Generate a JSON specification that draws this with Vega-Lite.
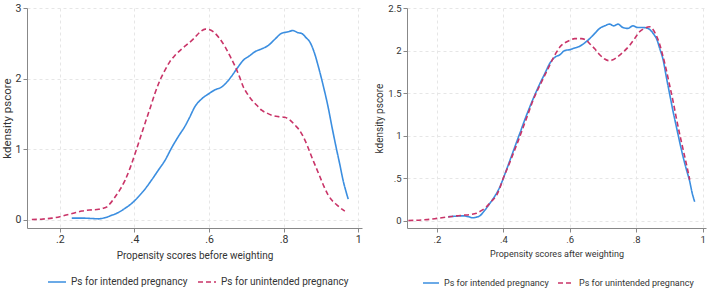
{
  "$schema": "https://vega.github.io/schema/vega-lite/v6.json",
  "padding": {"left": 1, "top": 3, "right": 1, "bottom": 1},
  "background": "white",
  "datasets": {
    "before": [
      {"group": "Ps for intended pregnancy", "x": 0.232, "y": 0.02},
      {"group": "Ps for intended pregnancy", "x": 0.26, "y": 0.02},
      {"group": "Ps for intended pregnancy", "x": 0.285, "y": 0.015},
      {"group": "Ps for intended pregnancy", "x": 0.304, "y": 0.01},
      {"group": "Ps for intended pregnancy", "x": 0.32, "y": 0.025},
      {"group": "Ps for intended pregnancy", "x": 0.339, "y": 0.06},
      {"group": "Ps for intended pregnancy", "x": 0.357, "y": 0.10},
      {"group": "Ps for intended pregnancy", "x": 0.375, "y": 0.16},
      {"group": "Ps for intended pregnancy", "x": 0.393, "y": 0.23},
      {"group": "Ps for intended pregnancy", "x": 0.41, "y": 0.32},
      {"group": "Ps for intended pregnancy", "x": 0.428, "y": 0.43},
      {"group": "Ps for intended pregnancy", "x": 0.446, "y": 0.56},
      {"group": "Ps for intended pregnancy", "x": 0.464, "y": 0.70},
      {"group": "Ps for intended pregnancy", "x": 0.482, "y": 0.84},
      {"group": "Ps for intended pregnancy", "x": 0.5, "y": 1.02},
      {"group": "Ps for intended pregnancy", "x": 0.518, "y": 1.18},
      {"group": "Ps for intended pregnancy", "x": 0.535, "y": 1.32},
      {"group": "Ps for intended pregnancy", "x": 0.548, "y": 1.45},
      {"group": "Ps for intended pregnancy", "x": 0.562, "y": 1.60},
      {"group": "Ps for intended pregnancy", "x": 0.58, "y": 1.71},
      {"group": "Ps for intended pregnancy", "x": 0.598, "y": 1.78},
      {"group": "Ps for intended pregnancy", "x": 0.616, "y": 1.84},
      {"group": "Ps for intended pregnancy", "x": 0.634, "y": 1.88},
      {"group": "Ps for intended pregnancy", "x": 0.648, "y": 1.95},
      {"group": "Ps for intended pregnancy", "x": 0.66, "y": 2.03},
      {"group": "Ps for intended pregnancy", "x": 0.676, "y": 2.15},
      {"group": "Ps for intended pregnancy", "x": 0.692, "y": 2.26},
      {"group": "Ps for intended pregnancy", "x": 0.708, "y": 2.32},
      {"group": "Ps for intended pregnancy", "x": 0.723, "y": 2.38},
      {"group": "Ps for intended pregnancy", "x": 0.741, "y": 2.42},
      {"group": "Ps for intended pregnancy", "x": 0.759, "y": 2.47},
      {"group": "Ps for intended pregnancy", "x": 0.777, "y": 2.56},
      {"group": "Ps for intended pregnancy", "x": 0.794, "y": 2.64},
      {"group": "Ps for intended pregnancy", "x": 0.81, "y": 2.66},
      {"group": "Ps for intended pregnancy", "x": 0.825, "y": 2.68},
      {"group": "Ps for intended pregnancy", "x": 0.838, "y": 2.65},
      {"group": "Ps for intended pregnancy", "x": 0.848, "y": 2.64},
      {"group": "Ps for intended pregnancy", "x": 0.86, "y": 2.58},
      {"group": "Ps for intended pregnancy", "x": 0.87, "y": 2.52},
      {"group": "Ps for intended pregnancy", "x": 0.882, "y": 2.37},
      {"group": "Ps for intended pregnancy", "x": 0.893, "y": 2.17},
      {"group": "Ps for intended pregnancy", "x": 0.906, "y": 1.90},
      {"group": "Ps for intended pregnancy", "x": 0.919, "y": 1.60},
      {"group": "Ps for intended pregnancy", "x": 0.93, "y": 1.30},
      {"group": "Ps for intended pregnancy", "x": 0.942, "y": 0.99},
      {"group": "Ps for intended pregnancy", "x": 0.951, "y": 0.77},
      {"group": "Ps for intended pregnancy", "x": 0.96, "y": 0.54},
      {"group": "Ps for intended pregnancy", "x": 0.967, "y": 0.40},
      {"group": "Ps for intended pregnancy", "x": 0.973, "y": 0.29},
      {"group": "Ps for unintended pregnancy", "x": 0.125, "y": 0.0},
      {"group": "Ps for unintended pregnancy", "x": 0.15, "y": 0.005},
      {"group": "Ps for unintended pregnancy", "x": 0.179, "y": 0.02},
      {"group": "Ps for unintended pregnancy", "x": 0.2, "y": 0.04},
      {"group": "Ps for unintended pregnancy", "x": 0.214, "y": 0.06},
      {"group": "Ps for unintended pregnancy", "x": 0.236, "y": 0.09},
      {"group": "Ps for unintended pregnancy", "x": 0.259, "y": 0.12},
      {"group": "Ps for unintended pregnancy", "x": 0.28, "y": 0.135},
      {"group": "Ps for unintended pregnancy", "x": 0.304, "y": 0.145},
      {"group": "Ps for unintended pregnancy", "x": 0.316, "y": 0.16},
      {"group": "Ps for unintended pregnancy", "x": 0.326, "y": 0.18},
      {"group": "Ps for unintended pregnancy", "x": 0.337, "y": 0.24},
      {"group": "Ps for unintended pregnancy", "x": 0.348, "y": 0.32},
      {"group": "Ps for unintended pregnancy", "x": 0.362, "y": 0.43},
      {"group": "Ps for unintended pregnancy", "x": 0.375, "y": 0.56},
      {"group": "Ps for unintended pregnancy", "x": 0.389, "y": 0.74},
      {"group": "Ps for unintended pregnancy", "x": 0.402, "y": 0.94},
      {"group": "Ps for unintended pregnancy", "x": 0.415, "y": 1.15},
      {"group": "Ps for unintended pregnancy", "x": 0.428, "y": 1.36},
      {"group": "Ps for unintended pregnancy", "x": 0.442, "y": 1.58},
      {"group": "Ps for unintended pregnancy", "x": 0.455, "y": 1.79},
      {"group": "Ps for unintended pregnancy", "x": 0.468, "y": 1.97},
      {"group": "Ps for unintended pregnancy", "x": 0.482, "y": 2.12},
      {"group": "Ps for unintended pregnancy", "x": 0.495, "y": 2.24},
      {"group": "Ps for unintended pregnancy", "x": 0.509, "y": 2.33},
      {"group": "Ps for unintended pregnancy", "x": 0.527, "y": 2.42},
      {"group": "Ps for unintended pregnancy", "x": 0.545, "y": 2.50},
      {"group": "Ps for unintended pregnancy", "x": 0.56, "y": 2.57},
      {"group": "Ps for unintended pregnancy", "x": 0.576, "y": 2.66},
      {"group": "Ps for unintended pregnancy", "x": 0.59, "y": 2.70},
      {"group": "Ps for unintended pregnancy", "x": 0.602, "y": 2.69},
      {"group": "Ps for unintended pregnancy", "x": 0.612, "y": 2.66},
      {"group": "Ps for unintended pregnancy", "x": 0.628, "y": 2.57},
      {"group": "Ps for unintended pregnancy", "x": 0.643, "y": 2.45},
      {"group": "Ps for unintended pregnancy", "x": 0.656, "y": 2.32},
      {"group": "Ps for unintended pregnancy", "x": 0.67, "y": 2.17},
      {"group": "Ps for unintended pregnancy", "x": 0.682, "y": 2.02},
      {"group": "Ps for unintended pregnancy", "x": 0.692, "y": 1.88},
      {"group": "Ps for unintended pregnancy", "x": 0.703, "y": 1.78},
      {"group": "Ps for unintended pregnancy", "x": 0.714, "y": 1.70},
      {"group": "Ps for unintended pregnancy", "x": 0.728, "y": 1.62},
      {"group": "Ps for unintended pregnancy", "x": 0.741, "y": 1.55},
      {"group": "Ps for unintended pregnancy", "x": 0.755, "y": 1.51},
      {"group": "Ps for unintended pregnancy", "x": 0.768, "y": 1.48},
      {"group": "Ps for unintended pregnancy", "x": 0.785, "y": 1.46},
      {"group": "Ps for unintended pregnancy", "x": 0.803, "y": 1.45},
      {"group": "Ps for unintended pregnancy", "x": 0.817, "y": 1.41},
      {"group": "Ps for unintended pregnancy", "x": 0.83, "y": 1.34},
      {"group": "Ps for unintended pregnancy", "x": 0.842, "y": 1.27},
      {"group": "Ps for unintended pregnancy", "x": 0.853, "y": 1.17},
      {"group": "Ps for unintended pregnancy", "x": 0.864, "y": 1.04},
      {"group": "Ps for unintended pregnancy", "x": 0.875, "y": 0.89},
      {"group": "Ps for unintended pregnancy", "x": 0.886, "y": 0.75},
      {"group": "Ps for unintended pregnancy", "x": 0.897, "y": 0.61},
      {"group": "Ps for unintended pregnancy", "x": 0.908, "y": 0.47},
      {"group": "Ps for unintended pregnancy", "x": 0.919, "y": 0.35},
      {"group": "Ps for unintended pregnancy", "x": 0.93, "y": 0.27},
      {"group": "Ps for unintended pregnancy", "x": 0.942, "y": 0.21},
      {"group": "Ps for unintended pregnancy", "x": 0.953, "y": 0.16},
      {"group": "Ps for unintended pregnancy", "x": 0.964, "y": 0.12}
    ],
    "after": [
      {"group": "Ps for intended pregnancy", "x": 0.234, "y": 0.045},
      {"group": "Ps for intended pregnancy", "x": 0.255, "y": 0.05},
      {"group": "Ps for intended pregnancy", "x": 0.279, "y": 0.055},
      {"group": "Ps for intended pregnancy", "x": 0.295, "y": 0.045},
      {"group": "Ps for intended pregnancy", "x": 0.309, "y": 0.032},
      {"group": "Ps for intended pregnancy", "x": 0.319, "y": 0.04},
      {"group": "Ps for intended pregnancy", "x": 0.329, "y": 0.055},
      {"group": "Ps for intended pregnancy", "x": 0.344, "y": 0.12},
      {"group": "Ps for intended pregnancy", "x": 0.359, "y": 0.20},
      {"group": "Ps for intended pregnancy", "x": 0.375, "y": 0.29},
      {"group": "Ps for intended pregnancy", "x": 0.39, "y": 0.40},
      {"group": "Ps for intended pregnancy", "x": 0.405, "y": 0.55},
      {"group": "Ps for intended pregnancy", "x": 0.42, "y": 0.71},
      {"group": "Ps for intended pregnancy", "x": 0.435, "y": 0.87},
      {"group": "Ps for intended pregnancy", "x": 0.45, "y": 1.03},
      {"group": "Ps for intended pregnancy", "x": 0.465, "y": 1.19},
      {"group": "Ps for intended pregnancy", "x": 0.48, "y": 1.34},
      {"group": "Ps for intended pregnancy", "x": 0.495, "y": 1.48},
      {"group": "Ps for intended pregnancy", "x": 0.51, "y": 1.61},
      {"group": "Ps for intended pregnancy", "x": 0.525, "y": 1.73},
      {"group": "Ps for intended pregnancy", "x": 0.54, "y": 1.85},
      {"group": "Ps for intended pregnancy", "x": 0.555, "y": 1.92},
      {"group": "Ps for intended pregnancy", "x": 0.57, "y": 1.95},
      {"group": "Ps for intended pregnancy", "x": 0.585, "y": 2.00},
      {"group": "Ps for intended pregnancy", "x": 0.6, "y": 2.01},
      {"group": "Ps for intended pregnancy", "x": 0.615, "y": 2.03},
      {"group": "Ps for intended pregnancy", "x": 0.63, "y": 2.05},
      {"group": "Ps for intended pregnancy", "x": 0.645, "y": 2.09},
      {"group": "Ps for intended pregnancy", "x": 0.66, "y": 2.14},
      {"group": "Ps for intended pregnancy", "x": 0.675, "y": 2.20},
      {"group": "Ps for intended pregnancy", "x": 0.69, "y": 2.26},
      {"group": "Ps for intended pregnancy", "x": 0.705, "y": 2.29},
      {"group": "Ps for intended pregnancy", "x": 0.72, "y": 2.31},
      {"group": "Ps for intended pregnancy", "x": 0.732, "y": 2.29},
      {"group": "Ps for intended pregnancy", "x": 0.745, "y": 2.31},
      {"group": "Ps for intended pregnancy", "x": 0.76, "y": 2.27},
      {"group": "Ps for intended pregnancy", "x": 0.775, "y": 2.26},
      {"group": "Ps for intended pregnancy", "x": 0.79, "y": 2.29},
      {"group": "Ps for intended pregnancy", "x": 0.805, "y": 2.27},
      {"group": "Ps for intended pregnancy", "x": 0.82, "y": 2.27},
      {"group": "Ps for intended pregnancy", "x": 0.835, "y": 2.26},
      {"group": "Ps for intended pregnancy", "x": 0.845, "y": 2.23},
      {"group": "Ps for intended pregnancy", "x": 0.853, "y": 2.19},
      {"group": "Ps for intended pregnancy", "x": 0.861, "y": 2.14},
      {"group": "Ps for intended pregnancy", "x": 0.871, "y": 2.02},
      {"group": "Ps for intended pregnancy", "x": 0.881, "y": 1.89},
      {"group": "Ps for intended pregnancy", "x": 0.89, "y": 1.70},
      {"group": "Ps for intended pregnancy", "x": 0.9, "y": 1.50},
      {"group": "Ps for intended pregnancy", "x": 0.91, "y": 1.30},
      {"group": "Ps for intended pregnancy", "x": 0.921, "y": 1.10},
      {"group": "Ps for intended pregnancy", "x": 0.931, "y": 0.92},
      {"group": "Ps for intended pregnancy", "x": 0.941, "y": 0.75},
      {"group": "Ps for intended pregnancy", "x": 0.951, "y": 0.60},
      {"group": "Ps for intended pregnancy", "x": 0.961, "y": 0.46},
      {"group": "Ps for intended pregnancy", "x": 0.968, "y": 0.33},
      {"group": "Ps for intended pregnancy", "x": 0.976, "y": 0.22},
      {"group": "Ps for unintended pregnancy", "x": 0.114, "y": 0.0},
      {"group": "Ps for unintended pregnancy", "x": 0.14, "y": 0.003},
      {"group": "Ps for unintended pregnancy", "x": 0.159, "y": 0.008},
      {"group": "Ps for unintended pregnancy", "x": 0.18, "y": 0.015},
      {"group": "Ps for unintended pregnancy", "x": 0.2, "y": 0.025},
      {"group": "Ps for unintended pregnancy", "x": 0.22, "y": 0.035},
      {"group": "Ps for unintended pregnancy", "x": 0.239, "y": 0.045},
      {"group": "Ps for unintended pregnancy", "x": 0.259, "y": 0.055},
      {"group": "Ps for unintended pregnancy", "x": 0.279, "y": 0.062},
      {"group": "Ps for unintended pregnancy", "x": 0.3, "y": 0.07},
      {"group": "Ps for unintended pregnancy", "x": 0.319, "y": 0.085},
      {"group": "Ps for unintended pregnancy", "x": 0.335, "y": 0.12},
      {"group": "Ps for unintended pregnancy", "x": 0.349, "y": 0.16},
      {"group": "Ps for unintended pregnancy", "x": 0.365, "y": 0.23},
      {"group": "Ps for unintended pregnancy", "x": 0.38, "y": 0.30},
      {"group": "Ps for unintended pregnancy", "x": 0.39, "y": 0.39},
      {"group": "Ps for unintended pregnancy", "x": 0.4, "y": 0.50},
      {"group": "Ps for unintended pregnancy", "x": 0.415, "y": 0.64},
      {"group": "Ps for unintended pregnancy", "x": 0.43, "y": 0.79},
      {"group": "Ps for unintended pregnancy", "x": 0.445, "y": 0.94},
      {"group": "Ps for unintended pregnancy", "x": 0.46, "y": 1.10},
      {"group": "Ps for unintended pregnancy", "x": 0.475, "y": 1.26},
      {"group": "Ps for unintended pregnancy", "x": 0.49, "y": 1.42},
      {"group": "Ps for unintended pregnancy", "x": 0.505, "y": 1.55},
      {"group": "Ps for unintended pregnancy", "x": 0.52, "y": 1.67},
      {"group": "Ps for unintended pregnancy", "x": 0.535, "y": 1.79},
      {"group": "Ps for unintended pregnancy", "x": 0.55, "y": 1.91},
      {"group": "Ps for unintended pregnancy", "x": 0.56, "y": 1.98},
      {"group": "Ps for unintended pregnancy", "x": 0.57, "y": 2.04},
      {"group": "Ps for unintended pregnancy", "x": 0.585, "y": 2.09},
      {"group": "Ps for unintended pregnancy", "x": 0.6, "y": 2.12},
      {"group": "Ps for unintended pregnancy", "x": 0.615, "y": 2.14},
      {"group": "Ps for unintended pregnancy", "x": 0.635, "y": 2.14},
      {"group": "Ps for unintended pregnancy", "x": 0.65, "y": 2.12},
      {"group": "Ps for unintended pregnancy", "x": 0.66, "y": 2.08},
      {"group": "Ps for unintended pregnancy", "x": 0.675, "y": 2.02},
      {"group": "Ps for unintended pregnancy", "x": 0.69, "y": 1.95},
      {"group": "Ps for unintended pregnancy", "x": 0.705, "y": 1.90},
      {"group": "Ps for unintended pregnancy", "x": 0.718, "y": 1.88},
      {"group": "Ps for unintended pregnancy", "x": 0.73, "y": 1.89},
      {"group": "Ps for unintended pregnancy", "x": 0.745, "y": 1.93},
      {"group": "Ps for unintended pregnancy", "x": 0.76, "y": 1.98},
      {"group": "Ps for unintended pregnancy", "x": 0.78, "y": 2.06},
      {"group": "Ps for unintended pregnancy", "x": 0.795, "y": 2.14},
      {"group": "Ps for unintended pregnancy", "x": 0.81, "y": 2.22},
      {"group": "Ps for unintended pregnancy", "x": 0.825, "y": 2.26},
      {"group": "Ps for unintended pregnancy", "x": 0.84, "y": 2.28},
      {"group": "Ps for unintended pregnancy", "x": 0.85, "y": 2.25},
      {"group": "Ps for unintended pregnancy", "x": 0.86, "y": 2.18},
      {"group": "Ps for unintended pregnancy", "x": 0.87, "y": 2.08},
      {"group": "Ps for unintended pregnancy", "x": 0.88, "y": 1.94},
      {"group": "Ps for unintended pregnancy", "x": 0.89, "y": 1.78},
      {"group": "Ps for unintended pregnancy", "x": 0.9, "y": 1.60},
      {"group": "Ps for unintended pregnancy", "x": 0.91, "y": 1.42},
      {"group": "Ps for unintended pregnancy", "x": 0.92, "y": 1.22},
      {"group": "Ps for unintended pregnancy", "x": 0.93, "y": 1.03},
      {"group": "Ps for unintended pregnancy", "x": 0.938, "y": 0.89},
      {"group": "Ps for unintended pregnancy", "x": 0.946, "y": 0.75},
      {"group": "Ps for unintended pregnancy", "x": 0.954, "y": 0.61},
      {"group": "Ps for unintended pregnancy", "x": 0.961, "y": 0.48}
    ]
  },
  "hconcat": [
    {
      "width": 335,
      "height": 220,
      "data": {"name": "before"},
      "mark": {"type": "line", "strokeWidth": 1.6, "interpolate": "monotone"},
      "encoding": {
        "x": {"field": "x", "type": "quantitative",
          "scale": {"domain": [0.112, 1.01], "nice": false, "zero": false},
          "axis": {"title": "Propensity scores before weighting", "values": [0.2, 0.4, 0.6, 0.8, 1], "titleFontSize": 10, "labelFontSize": 10.5}},
        "y": {"field": "y", "type": "quantitative",
          "scale": {"domain": [-0.12, 3.0], "nice": false, "zero": false},
          "axis": {"title": "kdensity pscore", "values": [0, 1, 2, 3], "titleFontSize": 11.5, "labelFontSize": 10.5}},
        "color": {"field": "group", "type": "nominal",
          "scale": {"domain": ["Ps for intended pregnancy", "Ps for unintended pregnancy"], "range": ["#3b8ee0", "#c93468"]},
          "legend": {"title": null, "orient": "none", "legendX": 20, "legendY": 264, "labelFontSize": 10, "symbolSize": 324, "columnPadding": 6}},
        "strokeDash": {"field": "group", "type": "nominal",
          "scale": {"domain": ["Ps for intended pregnancy", "Ps for unintended pregnancy"], "range": [[1, 0], [5, 3]]},
          "legend": {"title": null, "orient": "none", "legendX": 20, "legendY": 264, "labelFontSize": 10, "symbolSize": 324, "columnPadding": 6}}
      }
    },
    {
      "width": 299,
      "height": 220,
      "data": {"name": "after"},
      "mark": {"type": "line", "strokeWidth": 1.6, "interpolate": "monotone"},
      "encoding": {
        "x": {"field": "x", "type": "quantitative",
          "scale": {"domain": [0.11, 1.01], "nice": false, "zero": false},
          "axis": {"title": "Propensity scores after weighting", "values": [0.2, 0.4, 0.6, 0.8, 1], "titleFontSize": 9, "labelFontSize": 9.5}},
        "y": {"field": "y", "type": "quantitative",
          "scale": {"domain": [-0.088, 2.5], "nice": false, "zero": false},
          "axis": {"title": "kdensity pscore", "values": [0, 0.5, 1, 1.5, 2, 2.5], "titleFontSize": 10, "labelFontSize": 9.5}},
        "color": {"field": "group", "type": "nominal",
          "scale": {"domain": ["Ps for intended pregnancy", "Ps for unintended pregnancy"], "range": ["#3b8ee0", "#c93468"]},
          "legend": {"title": null, "orient": "none", "legendX": 15, "legendY": 266, "labelFontSize": 9, "symbolSize": 256, "columnPadding": 5}},
        "strokeDash": {"field": "group", "type": "nominal",
          "scale": {"domain": ["Ps for intended pregnancy", "Ps for unintended pregnancy"], "range": [[1, 0], [5, 3]]},
          "legend": {"title": null, "orient": "none", "legendX": 15, "legendY": 266, "labelFontSize": 9, "symbolSize": 256, "columnPadding": 5}}
      }
    }
  ],
  "spacing": 12,
  "resolve": {
    "scale": {"color": "independent", "strokeDash": "independent", "x": "independent", "y": "independent"},
    "legend": {"color": "independent", "strokeDash": "independent"}
  },
  "config": {
    "font": "Roboto, Liberation Sans, sans-serif",
    "view": {"stroke": null},
    "axis": {
      "labelColor": "#333",
      "titleFontWeight": "normal",
      "titleColor": "#333",
      "domainColor": "#888",
      "tickColor": "#888",
      "tickSize": 4,
      "labelPadding": 2,
      "grid": true,
      "gridDash": [3, 3],
      "gridColor": "#e6e6e6",
      "labelExpr": "datum.value > 0 && datum.value < 1 ? replace(format(datum.value, '.1f'), '0.', '.') : format(datum.value, '~g')"
    },
    "axisX": {"titlePadding": 6, "labelFlush": false},
    "axisY": {"titlePadding": 3, "labelFlush": false},
    "legend": {
      "direction": "horizontal",
      "symbolType": "stroke",
      "symbolStrokeWidth": 1.6,
      "labelColor": "#333",
      "labelOffset": 4,
      "padding": 0
    }
  }
}
